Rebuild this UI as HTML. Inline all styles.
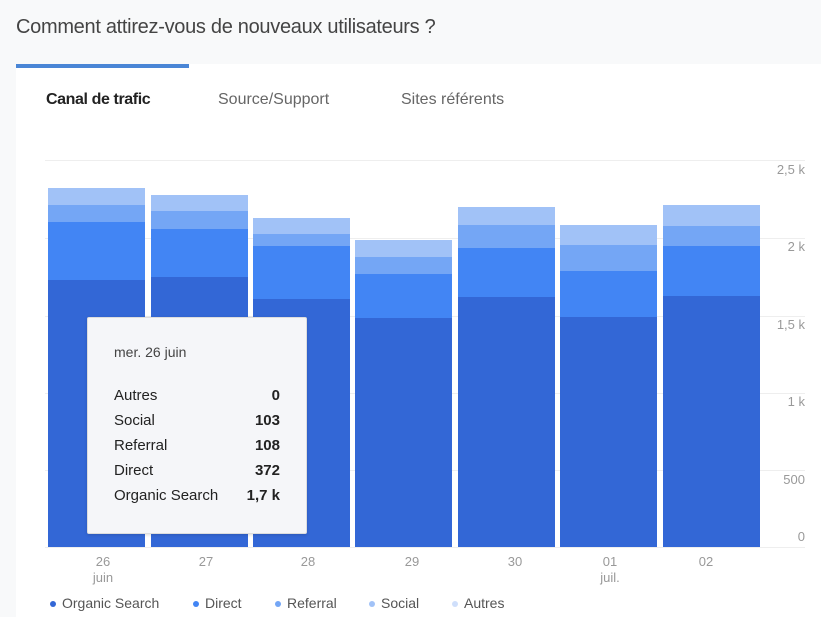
<!DOCTYPE html><html><head><style>
body{margin:0;width:821px;height:617px;background:#f8f9fa;font-family:"Liberation Sans",sans-serif;position:relative;overflow:hidden}
.a{position:absolute}
.card{left:16px;top:64px;width:805px;height:553px;background:#fff}
.t{font-size:20px;color:#444;left:16px;top:16px;letter-spacing:-0.3px}
.tab{font-size:16px;top:91px;color:#666}
.bar{position:absolute;width:97px}
.yl{font-size:13px;color:#999;right:16px;text-align:right}
.xl{font-size:13px;color:#999;text-align:center;width:40px;line-height:16px}
.gl{height:1px;background:#eee;left:45px;width:760px}
.lg{font-size:14px;color:#555;top:595px}
.dot{display:inline-block;width:6px;height:6px;border-radius:3px;margin-right:6px;vertical-align:middle}
.tt{left:87px;top:317px;width:218px;height:215px;background:#f5f6f9;border:1px solid #ddd;border-radius:2px;box-shadow:0 1px 3px rgba(0,0,0,.15)}
.row{position:absolute;left:26px;width:166px;font-size:15px;color:#222}
.row b{float:right}
</style></head><body>
<div class="a t">Comment attirez-vous de nouveaux utilisateurs ?</div>
<div class="a card"></div>
<div class="a" style="left:16px;top:64px;width:173px;height:4px;background:#4a86d6"></div>
<div class="a tab" style="left:46px;color:#222;font-weight:bold;letter-spacing:-0.4px">Canal de trafic</div>
<div class="a tab" style="left:218px">Source/Support</div>
<div class="a tab" style="left:401px">Sites référents</div>
<div class="a gl" style="top:160px"></div>
<div class="a gl" style="top:238px"></div>
<div class="a gl" style="top:316px"></div>
<div class="a gl" style="top:393px"></div>
<div class="a gl" style="top:470px"></div>
<div class="a gl" style="top:547px"></div>
<div class="a yl" style="top:162px">2,5 k</div>
<div class="a yl" style="top:239px">2 k</div>
<div class="a yl" style="top:317px">1,5 k</div>
<div class="a yl" style="top:394px">1 k</div>
<div class="a yl" style="top:472px">500</div>
<div class="a yl" style="top:529px">0</div>
<div id="bars"></div>
<script>
var d=[[48,188,205,222,280],[151,195,211,229,277],[253,218,234,246,299],[355,240,257,274,318],[458,207,225,248,297],[560,225,245,271,317],[663,205,226,246,296]];
var c=['#a1c2f7','#74a6f5','#4285f4','#3367d6'],h='';
d.forEach(function(b){for(var i=0;i<4;i++){var top=b[i+1],bot=i<3?b[i+2]:547;h+='<div class="bar" style="left:'+b[0]+'px;top:'+top+'px;height:'+(bot-top)+'px;background:'+c[i]+'"></div>';}});
document.getElementById('bars').innerHTML=h;
</script>
<div class="a xl" style="left:83px;top:554px">26<br>juin</div>
<div class="a xl" style="left:186px;top:554px">27</div>
<div class="a xl" style="left:288px;top:554px">28</div>
<div class="a xl" style="left:392px;top:554px">29</div>
<div class="a xl" style="left:495px;top:554px">30</div>
<div class="a xl" style="left:590px;top:554px">01<br>juil.</div>
<div class="a xl" style="left:686px;top:554px">02</div>
<div class="a lg" style="left:50px"><span class="dot" style="background:#3367d6"></span>Organic Search</div>
<div class="a lg" style="left:193px"><span class="dot" style="background:#4285f4"></span>Direct</div>
<div class="a lg" style="left:275px"><span class="dot" style="background:#74a6f5"></span>Referral</div>
<div class="a lg" style="left:369px"><span class="dot" style="background:#a1c2f7"></span>Social</div>
<div class="a lg" style="left:452px"><span class="dot" style="background:#cfdffb"></span>Autres</div>
<div class="a tt">
<div class="row" style="top:26px;font-size:14px;color:#444">mer. 26 juin</div>
<div class="row" style="top:69px">Autres<b>0</b></div>
<div class="row" style="top:94px">Social<b>103</b></div>
<div class="row" style="top:119px">Referral<b>108</b></div>
<div class="row" style="top:144px">Direct<b>372</b></div>
<div class="row" style="top:169px">Organic Search<b>1,7 k</b></div>
</div>
</body></html>
